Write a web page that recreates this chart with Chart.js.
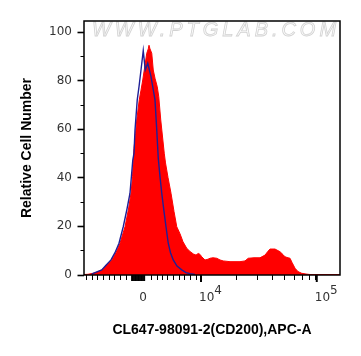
<!DOCTYPE html>
<html><head><meta charset="utf-8">
<script src="https://cdn.jsdelivr.net/npm/chart.js@4.4.1/dist/chart.umd.min.js"></script>
<style>html,body{margin:0;padding:0;background:#fff;overflow:hidden;}</style>
</head><body>
<canvas id="c" width="361" height="356"></canvas>
<script>
// Display channel (0..1024 across the axis) and relative cell counts
const redChannels = [0,16,36,52,71,88,111,128,144,164,178,188,194,197,200,206,211,221,228,235,241,251,257,260,264,271,277,284,293,299,307,321,326,336,348,360,371,384,396,411,424,437,448,457,464,471,484,496,504,516,531,544,557,584,624,644,657,680,704,724,736,744,764,784,796,804,816,824,832,844,856,871,888,904,1024];
const redCounts   = [0,0.1,0.5,1.0,1.9,3.5,6,9,12.9,19.7,27,33.5,40.3,47,52,58,63.7,72,76,80.2,84.3,91.2,93,94.5,93,91.2,84.3,80.9,77.4,73.3,63.7,50,46,40,33.5,26,19.7,16.8,13.5,10.8,9.5,8.5,8,8.7,8.3,7.3,6,6.3,6.7,6.9,6.7,6,5.6,5.3,5.3,5.6,6.7,6.9,6.9,8,9.6,10.5,10.5,9.4,8.2,7.3,6.9,6.7,5,2.6,1.2,0.5,0.2,0,0];
const blueChannels = [30,37,71,88,108,124,140,157,172,184,195,200,204,213,220,228,237,245,255,268,275,284,291,297,304,311,320,328,337,346,357,372,391,408,424,444];
const blueCounts   = [0,0.5,1.9,3.8,6,9,12.9,19.7,27,33.5,47,50,59.6,72,77.4,84.3,92.3,84.3,87.1,81.6,77.4,72,59.6,48,40.3,33.5,26,19.7,12.9,9,6,3.5,1.9,0.8,0.3,0];

// Axis ticks
const yTickValues = [0,5,10,15,20,25,30,35,40,45,50,55,60,65,70,75,80,85,90,95,100];
const xMajorTicks = [468, 931];
const xMinorTicks = [8,31,53,76,99,121,144,167,268,290,312,333,357,379,401,424,447,607,693,753,800,839,871,899,924];
const xDenseTicks = [191,194,197,200,203,206,209,212,215,218,221,224,227,230,233,236,239,242];
const xLabelValues = [232, 468, 931];
const xLabelBases  = ['0', '10', '10'];
const xLabelExps   = ['', '4', '5'];

const xTitle = 'CL647-98091-2(CD200),APC-A';
const yTitle = 'Relative Cell Number';
const watermark = 'WWW.PTGLAB.COM';

const allXTicks = [...xMajorTicks, ...xMinorTicks, ...xDenseTicks].sort((a,b)=>a-b);

const decor = {
  id: 'decor',
  beforeDatasetsDraw(chart) {
    const {ctx, chartArea} = chart;
    ctx.save();
    ctx.font = 'italic 20px "Liberation Sans", Arial, sans-serif';
    const base = ctx.measureText(watermark).width;
    const target = 248;
    let sx = 1;
    if ('letterSpacing' in ctx) {
      ctx.letterSpacing = ((target - base) / watermark.length).toFixed(2) + 'px';
    } else {
      sx = target / base;
    }
    const w = ctx.measureText(watermark).width;
    ctx.translate((chartArea.left + chartArea.right) / 2 - (sx === 1 ? w / 2 : target / 2) + 4, chartArea.top + 9.5);
    ctx.scale(sx, 1);
    ctx.textAlign = 'left';
    ctx.textBaseline = 'middle';
    ctx.fillStyle = '#fbfbfb';
    ctx.fillText(watermark, 0, 0);
    ctx.strokeStyle = '#d2d2d2';
    ctx.lineWidth = 0.8;
    ctx.strokeText(watermark, 0, 0);
    ctx.restore();
  },
  afterDraw(chart) {
    const {ctx, chartArea} = chart;
    const xs = chart.scales.x, ys = chart.scales.y;
    ctx.save();
    ctx.strokeStyle = '#000';
    // frame
    ctx.lineWidth = 1.5;
    ctx.strokeRect(chartArea.left, chartArea.top, chartArea.right - chartArea.left, chartArea.bottom - chartArea.top);
    // y ticks
    ys.ticks.forEach(t => {
      const py = Math.round(ys.getPixelForValue(t.value)) + 0.5;
      const major = t.value % 20 === 0;
      ctx.lineWidth = major ? 1.6 : 1;
      ctx.beginPath();
      ctx.moveTo(chartArea.left, py);
      ctx.lineTo(chartArea.left - (major ? 6.5 : 3.5), py);
      ctx.stroke();
    });
    // x ticks
    xs.ticks.forEach(t => {
      const px = xs.getPixelForValue(t.value);
      let len = 5, lw = 1;
      if (xMajorTicks.includes(t.value)) { len = 7; lw = 2; }
      else if (xDenseTicks.includes(t.value)) { len = 6; lw = 1.3; }
      ctx.lineWidth = lw;
      const x = lw === 1 ? Math.round(px) + 0.5 : px;
      ctx.beginPath();
      ctx.moveTo(x, chartArea.bottom);
      ctx.lineTo(x, chartArea.bottom + len);
      ctx.stroke();
    });
    // x labels with superscripts
    ctx.font = '12px "DejaVu Sans", sans-serif';
    ctx.fillStyle = '#333';
    ctx.textBaseline = 'middle';
    xLabelValues.forEach((v, i) => {
      const px = xs.getPixelForValue(v);
      const y = chartArea.bottom + 22.5;
      if (!xLabelExps[i]) {
        ctx.textAlign = 'center';
        ctx.fillText(xLabelBases[i], px + 1, y);
      } else {
        ctx.textAlign = 'left';
        const x0 = px - 2;
        ctx.fillText(xLabelBases[i], x0, y);
        const w = ctx.measureText(xLabelBases[i]).width;
        ctx.fillText(xLabelExps[i], x0 + w, y - 7);
      }
    });
    ctx.restore();
  }
};

new Chart(document.getElementById('c').getContext('2d'), {
  type: 'line',
  data: {
    datasets: [
      {
        label: 'Isotype control',
        data: blueChannels.map((c, i) => ({x: c, y: blueCounts[i]})),
        borderColor: '#1f1f96',
        borderWidth: 1.4,
        pointRadius: 0,
        fill: false,
        tension: 0,
        order: 0
      },
      {
        label: 'CD200',
        data: redChannels.map((c, i) => ({x: c, y: redCounts[i]})),
        borderColor: '#ff0000',
        backgroundColor: '#ff0000',
        borderWidth: 1,
        pointRadius: 0,
        fill: 'start',
        tension: 0,
        order: 1
      }
    ]
  },
  options: {
    responsive: false,
    animation: false,
    devicePixelRatio: 1,
    layout: {padding: {top: 21, right: 21, left: 0, bottom: 0}},
    plugins: {legend: {display: false}, tooltip: {enabled: false}},
    scales: {
      x: {
        type: 'linear', min: 0, max: 1024, position: 'bottom',
        grid: {display: false, drawTicks: false},
        border: {display: false},
        ticks: {display: false},
        afterBuildTicks: s => { s.ticks = allXTicks.map(v => ({value: v})); },
        afterFit: s => { s.height = 81; },
        title: {
          display: true, text: xTitle, color: '#000',
          font: {family: '"Liberation Sans", Arial, sans-serif', size: 14, weight: 'bold'},
          padding: {top: 0, bottom: 17.6}
        }
      },
      y: {
        type: 'linear', min: -0.2, max: 104.5,
        grid: {display: false, drawTicks: false},
        border: {display: false},
        afterBuildTicks: s => { s.ticks = yTickValues.map(v => ({value: v})); },
        afterFit: s => { s.width = 84; },
        ticks: {
          padding: 12, color: '#333',
          font: {family: '"DejaVu Sans", sans-serif', size: 12},
          callback: v => (v % 20 === 0 ? String(v) : '')
        },
        title: {
          display: true, text: yTitle, color: '#000',
          font: {family: '"Liberation Sans", Arial, sans-serif', size: 14, weight: 'bold'},
          padding: {top: 18.6, bottom: 0}
        }
      }
    }
  },
  plugins: [decor]
});
</script>
</body></html>
